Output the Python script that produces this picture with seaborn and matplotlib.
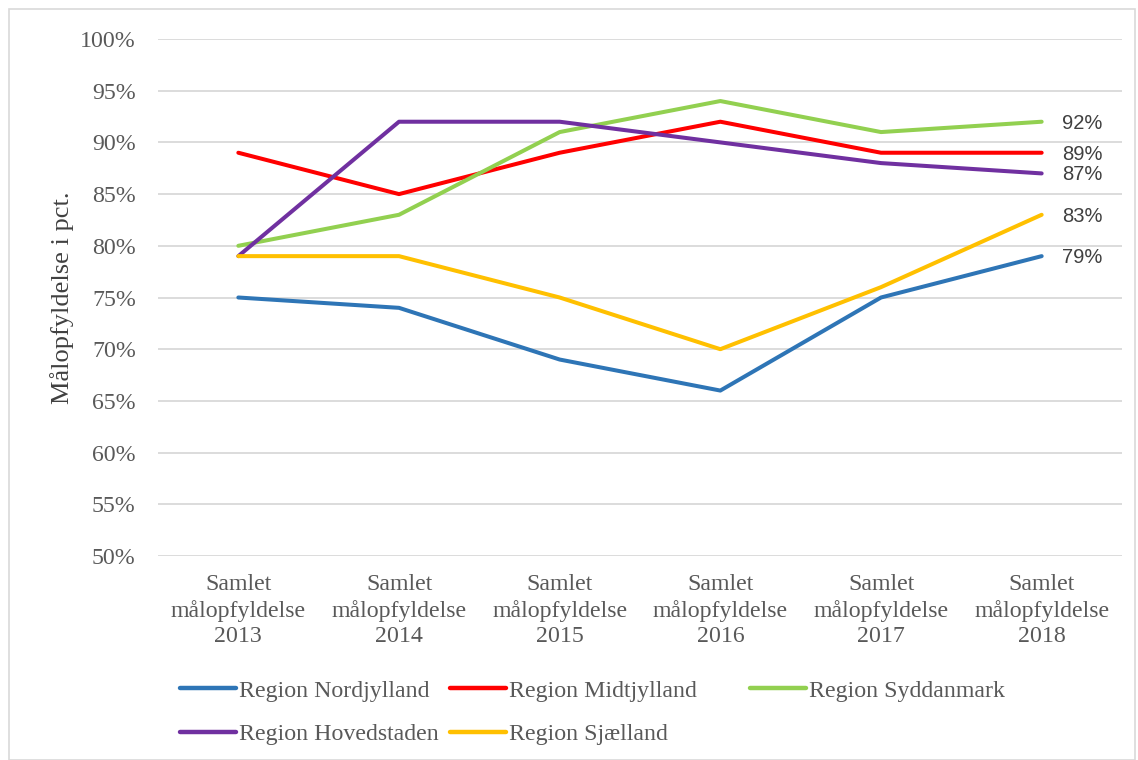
import pandas as pd
import matplotlib.pyplot as plt
import seaborn as sns
from matplotlib.patches import Rectangle

# --- data ---
aar = ["2013", "2014", "2015", "2016", "2017", "2018"]
regioner = ["Region Nordjylland", "Region Midtjylland", "Region Syddanmark",
            "Region Hovedstaden", "Region Sjælland"]
nordjylland = [0.75, 0.74, 0.69, 0.66, 0.75, 0.79]
midtjylland = [0.89, 0.85, 0.89, 0.92, 0.89, 0.89]
syddanmark = [0.80, 0.83, 0.91, 0.94, 0.91, 0.92]
hovedstaden = [0.79, 0.92, 0.92, 0.90, 0.88, 0.87]
sjaelland = [0.79, 0.79, 0.75, 0.70, 0.76, 0.83]
farver = ["#2E75B6", "#FF0000", "#92D050", "#7030A0", "#FFC000"]

serier = [nordjylland, midtjylland, syddanmark, hovedstaden, sjaelland]
rows = []
for navn, vals in zip(regioner, serier):
    for i, v in enumerate(vals):
        rows.append({"x": i, "region": navn, "val": v})
df = pd.DataFrame(rows)

# --- style ---
sns.set_theme(style="white")
plt.rcParams['font.family'] = ['Liberation Serif', 'DejaVu Serif']
tekst = "#595959"

fig = plt.figure(figsize=(11.38, 7.6), dpi=100)
ax = fig.add_axes([158 / 1138, 1 - 556 / 760, 964 / 1138, 517 / 760])

sns.lineplot(data=df, x="x", y="val", hue="region", hue_order=regioner,
             palette=dict(zip(regioner, farver)), linewidth=2.9,
             ax=ax, legend=True)

ax.set_xlim(-0.5, 5.5)
ax.set_ylim(0.5, 1.0)
ax.set_yticks([0.5 + 0.05 * k for k in range(11)])
ax.set_yticklabels([f"{int(round(t * 100))}%" for t in ax.get_yticks()])
ax.set_xticks(range(len(aar)))
ax.set_xticklabels([f"Samlet\nmålopfyldelse\n{a}" for a in aar], linespacing=1.28)
ax.tick_params(axis="y", length=0, pad=16, labelsize=17.2, labelcolor=tekst)
ax.tick_params(axis="x", length=0, pad=13, labelsize=17.2, labelcolor=tekst)
ax.grid(axis="y", color="#D9D9D9", linewidth=1.3)
ax.set_axisbelow(True)
for s in ax.spines.values():
    s.set_visible(False)
ax.set_xlabel("")
ax.set_ylabel("Målopfyldelse i pct.", fontsize=19, color="#404040")
ax.yaxis.set_label_coords(-84 / 964, 0.5)

# labels at the end of each line
for vals in serier:
    ax.annotate(f"{int(round(vals[-1] * 100))}%", (len(aar) - 1, vals[-1]),
                xytext=(15, -1), textcoords="offset points", va="center",
                ha="left", fontsize=14.5, color="#404040",
                family=["Liberation Sans", "DejaVu Sans"])

# legend below, one legend per column so the columns sit like the original
ax.get_legend().remove()
handles, labels = ax.get_legend_handles_labels()
kolonner = [([0, 3], 180), ([1, 4], 450), ([2], 750)]
for idx, xpix in kolonner:
    leg = fig.legend([handles[i] for i in idx], [labels[i] for i in idx],
                     loc="upper left", bbox_to_anchor=(xpix / 1138, 1 - 680 / 760),
                     frameon=False, fontsize=17.2, handlelength=2.35,
                     handletextpad=0.1, labelspacing=0.9, labelcolor=tekst,
                     borderaxespad=0, borderpad=0)
    for ln in leg.get_lines():
        ln.set_linewidth(3.2)

# chart border
fig.patches.append(Rectangle((9 / 1138, 0), 1126 / 1138, 1 - 9 / 760,
                             transform=fig.transFigure, fill=False,
                             edgecolor="#D9D9D9", linewidth=1.2))

plt.savefig("out.png", dpi=100)
